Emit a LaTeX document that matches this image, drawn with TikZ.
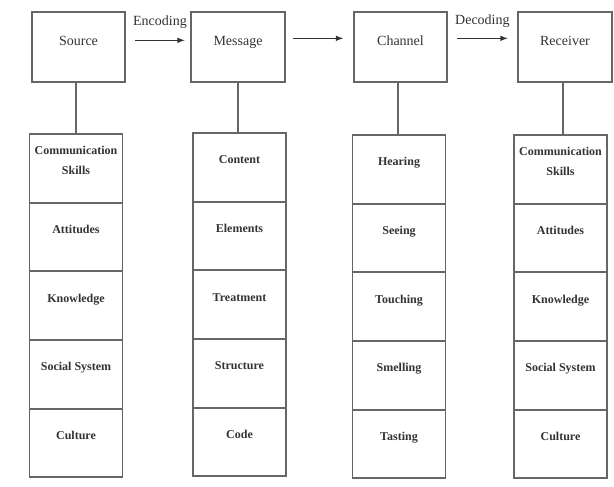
\documentclass[tikz,border=0pt]{standalone}
\usepackage{fontspec}
\setmainfont{Liberation Serif}
\usetikzlibrary{positioning}

\begin{document}
\begin{tikzpicture}[x=0.75pt,y=-0.75pt]
	\tikzstyle{every node}=[inner sep=1pt,outer sep=0pt,text=black!80]
	\tikzstyle{stage}=[draw=black!60,line width=1.3pt,minimum width=70pt,minimum height=52.5pt,
		text height=24pt,text depth=26.5pt,font=\fontsize{10.5}{12}\selectfont]
	\tikzstyle{cell}=[draw=black!60,line width=1.3pt,minimum width=69.75pt,minimum height=51.5pt,
		text height=22pt,text depth=27.5pt,align=center,font=\bfseries\fontsize{9}{14.5}\selectfont]
	\tikzstyle{twoline}=[cell,text height=29pt,text depth=20.5pt]
	\tikzstyle{flow}=[->,>=latex,line width=0.9pt,black!80]
	\tikzstyle{link}=[line width=1.3pt,black!60]
	\useasboundingbox (0,0) rectangle (614,486);
	% top row
	\node[stage] (source) at (78.5,47) {Source};
	\node[stage] (message) at (238,47) {Message};
	\node[stage] (channel) at (400.5,47) {Channel};
	\node[stage] (receiver) at (565,47) {Receiver};
	\draw[flow] ([xshift=7.5pt,yshift=5pt]source.east) -- ([xshift=-5pt,yshift=5pt]message.west)
		node[midway,above=8pt,font=\fontsize{10.5}{12}\selectfont] (enc) {Encoding};
	\draw[flow] ([xshift=6pt,yshift=6.5pt]message.east) -- ([xshift=-8pt,yshift=6.5pt]channel.west);
	\draw[flow] ([xshift=7.5pt,yshift=6.5pt]channel.east) -- ([xshift=-8pt,yshift=6.5pt]receiver.west)
		node[midway,above=7pt,font=\fontsize{10.5}{12}\selectfont] (dec) {Decoding};
	% source column
	\node[twoline,anchor=north] (src1) at (76,134) {Communication\\Skills};
	\node[cell,below=0pt of src1] (src2) {Attitudes};
	\node[cell,below=0pt of src2] (src3) {Knowledge};
	\node[cell,below=0pt of src3] (src4) {Social System};
	\node[cell,below=0pt of src4] (src5) {Culture};
	% message column
	\node[cell,anchor=north] (msg1) at (239.5,133) {Content};
	\node[cell,below=0pt of msg1] (msg2) {Elements};
	\node[cell,below=0pt of msg2] (msg3) {Treatment};
	\node[cell,below=0pt of msg3] (msg4) {Structure};
	\node[cell,below=0pt of msg4] (msg5) {Code};
	% channel column
	\node[cell,anchor=north] (chn1) at (399,135) {Hearing};
	\node[cell,below=0pt of chn1] (chn2) {Seeing};
	\node[cell,below=0pt of chn2] (chn3) {Touching};
	\node[cell,below=0pt of chn3] (chn4) {Smelling};
	\node[cell,below=0pt of chn4] (chn5) {Tasting};
	% receiver column
	\node[twoline,anchor=north] (rcv1) at (560.5,135) {Communication\\Skills};
	\node[cell,below=0pt of rcv1] (rcv2) {Attitudes};
	\node[cell,below=0pt of rcv2] (rcv3) {Knowledge};
	\node[cell,below=0pt of rcv3] (rcv4) {Social System};
	\node[cell,below=0pt of rcv4] (rcv5) {Culture};
	% links
	\draw[link] ([xshift=-2pt]source.south) -- ([xshift=-2pt]source.south |- src1.north);
	\draw[link] (message.south) -- (message.south |- msg1.north);
	\draw[link] ([xshift=-2pt]channel.south) -- ([xshift=-2pt]channel.south |- chn1.north);
	\draw[link] ([xshift=-1.5pt]receiver.south) -- ([xshift=-1.5pt]receiver.south |- rcv1.north);
\end{tikzpicture}
\end{document}
